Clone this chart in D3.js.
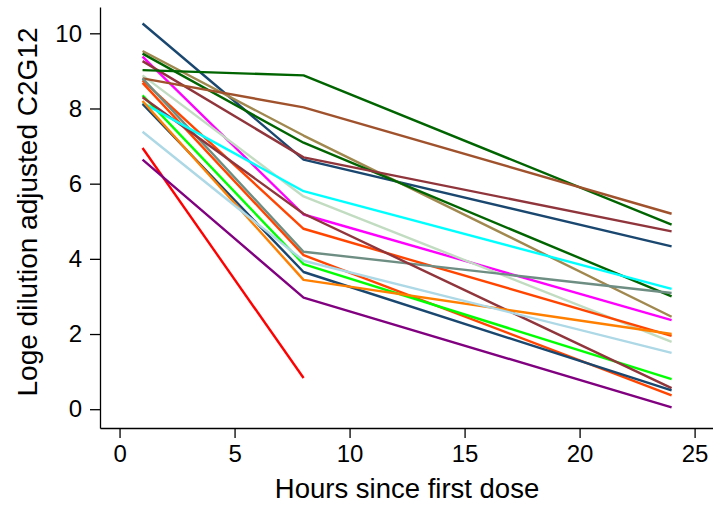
<!DOCTYPE html>
<html><head><meta charset="utf-8">
<script src="https://cdn.jsdelivr.net/npm/d3@7"></script>
<style>body{margin:0;background:#fff;} text{font-family:"Liberation Sans",Arial,sans-serif;}</style>
</head><body><svg id="c" width="713" height="505"></svg>
<script>
const hours = [1, 8, 24];
const xTicks = [0, 5, 10, 15, 20, 25];
const yTicks = [0, 2, 4, 6, 8, 10];
const subjects = ["s1","s2","s3","s4","s5","s6","s7","s8","s9","s10","s11","s12","s13","s14","s15","s16","s17","s18","s19"];
const colors = ["#1a476f","#a0884f","#006400","#ff00ff","#90353b","#006400","#c1dcc1","#a0522d","#ff4500","#ff4500","#6e8e84","#00ff00","#90353b","#00ffff","#1a476f","#ff7f00","#add8e6","#ff0000","#800080"];
const valuesH1  = [10.26, 9.53, 9.46, 9.38, 9.26, 9.02, 8.88, 8.80, 8.75, 8.68, 8.80, 8.35, 8.30, 8.15, 8.12, 8.20, 7.38, 6.95, 6.64];
const valuesH8  = [6.64, 7.28, 7.09, 5.18, 6.70, 8.88, 5.66, 8.03, 4.80, 4.10, 4.19, 3.86, 5.20, 5.80, 3.65, 3.44, 3.95, 0.83, 2.97];
const valuesH24 = [4.33, 2.46, 3.00, 2.37, 4.73, 4.91, 1.79, 5.20, 1.95, 0.37, 3.09, 0.80, 0.56, 3.20, 0.50, 2.00, 1.50, null, 0.05];
const xTitle = "Hours since first dose";
const yTitle = "Loge dilution adjusted C2G12";

const svg = d3.select("#c");
const x = d3.scaleLinear().domain([-0.85, 25.8]).range([100, 713]);
const y = d3.scaleLinear().domain([-0.5, 10.7]).range([428, 7]);

const series = subjects.map((s, i) => ({
  color: colors[i],
  pts: [valuesH1[i], valuesH8[i], valuesH24[i]].map((v, j) => ({h: hours[j], v})).filter(d => d.v !== null)
}));

const line = d3.line().x(d => x(d.h)).y(d => y(d.v));
svg.append("g").selectAll("path").data(series).join("path")
  .attr("d", d => line(d.pts))
  .attr("fill", "none").attr("stroke", d => d.color)
  .attr("stroke-width", 2.4).attr("stroke-linejoin", "round");

const xAxis = svg.append("g").attr("transform", "translate(0,428)")
  .call(d3.axisBottom(x).tickValues(xTicks).tickSize(10).tickSizeOuter(0).tickPadding(7));
const yAxis = svg.append("g").attr("transform", "translate(100,0)")
  .call(d3.axisLeft(y).tickValues(yTicks).tickSize(10).tickSizeOuter(0).tickPadding(8));
[xAxis, yAxis].forEach(g => {
  g.selectAll("path,line").attr("stroke", "#000").attr("stroke-width", 1.3);
  g.selectAll("text").attr("font-size", 24).attr("fill", "#000")
   .attr("font-family", "'Liberation Sans', Arial, sans-serif");
});

svg.append("text").attr("x", 407).attr("y", 498).attr("text-anchor", "middle")
  .attr("font-size", 27.5).text(xTitle);
svg.append("text").attr("transform", "translate(37,212) rotate(-90)").attr("text-anchor", "middle")
  .attr("font-size", 28).text(yTitle);
</script></body></html>
